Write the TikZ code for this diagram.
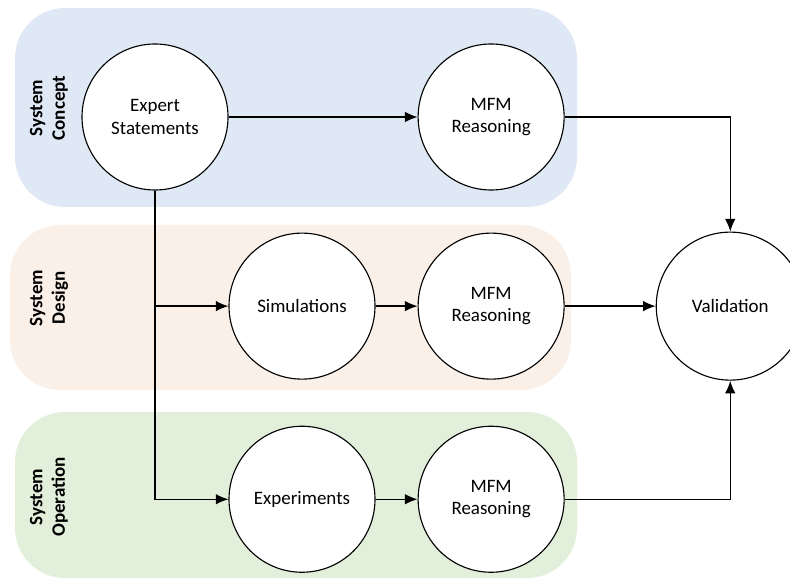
\documentclass[tikz,border=0pt]{standalone}
\usepackage{fontspec}
\setmainfont{Carlito}
\usetikzlibrary{positioning, arrows.meta}
\definecolor{conceptblue}{HTML}{DEE9F5}
\definecolor{designorange}{HTML}{FBF0E8}
\definecolor{operationgreen}{HTML}{E2EFDA}
\tikzset{>={Latex[length=9pt, width=7.5pt]}, % filled arrow heads
step circle/.style={circle, draw, fill=white, line width=0.8pt, minimum size=3.65cm, align=center, font=\fontsize{13.5}{16}\selectfont},
phase label/.style={rotate=90, align=center, font=\fontsize{13.5}{16}\selectfont\bfseries},
phase box/.style={rounded corners=1.25cm},
link/.style={->, line width=0.9pt},
}
\begin{document}
\begin{tikzpicture}
  \useasboundingbox (0,0) rectangle (19.75,-14.475);
  % phase backgrounds
  \fill[phase box, conceptblue] (0.375,-0.2) rectangle (14.425,-5.175);
  \fill[phase box, designorange] (0.25,-5.625) rectangle (14.275,-9.75);
  \fill[phase box, operationgreen] (0.375,-10.3) rectangle (14.425,-14.45);

  \node[phase label] (concept) at (1.225,-2.7) {System\\Concept};
  \node[phase label] (design) at (1.225,-7.45) {System\\Design};
  \node[phase label] (operation) at (1.225,-12.425) {System\\Operation};

  % nodes
  \node[step circle] (expert) at (3.875,-2.925) {Expert\\Statements};
  \node[step circle, right=4.725cm of expert] (mfmA) {MFM\\Reasoning};
  \node[step circle, below=1.05cm of mfmA] (mfmB) {MFM\\Reasoning};
  \node[step circle, left=1.05cm of mfmB] (sim) {Simulations};
  \node[step circle, below=1.15cm of mfmB] (mfmC) {MFM\\Reasoning};
  \node[step circle, left=1.05cm of mfmC] (exper) {Experiments};
  \node[step circle, minimum size=3.7cm, right=2.275cm of mfmB] (valid) {Validation};

  % connectors
  \draw[link] (expert) -- (mfmA);
  \draw[link] (mfmA.east) -| (valid.north);
  \draw[link] (expert.south) |- (exper.west);
  \draw[link] (expert.south |- sim.west) -- (sim.west);
  \draw[link] (sim) -- (mfmB);
  \draw[link] (mfmB) -- (valid);
  \draw[link] (exper) -- (mfmC);
  \draw[link] (mfmC.east) -| (valid.south);
\end{tikzpicture}
\end{document}
